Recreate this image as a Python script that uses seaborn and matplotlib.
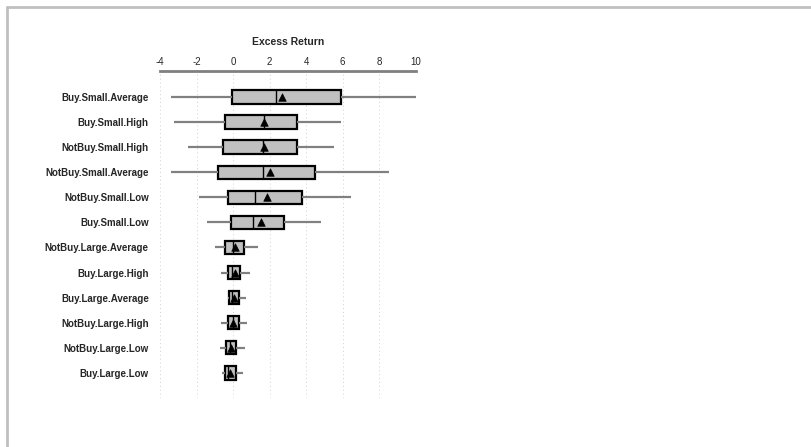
import numpy as np
import pandas as pd
import matplotlib
matplotlib.use("Agg")
import matplotlib.pyplot as plt
from matplotlib.lines import Line2D
import seaborn as sns

# Box plot summary (excess return)
groups = ["Buy.Small.Average", "Buy.Small.High", "NotBuy.Small.High",
          "NotBuy.Small.Average", "NotBuy.Small.Low", "Buy.Small.Low",
          "NotBuy.Large.Average", "Buy.Large.High", "Buy.Large.Average",
          "NotBuy.Large.High", "NotBuy.Large.Low", "Buy.Large.Low"]
whisker_lo = [-3.40, -3.23, -2.45, -3.41, -1.85, -1.44, -0.97, -0.66, -0.27, -0.66, -0.72, -0.59]
q1 = [-0.08, -0.44, -0.53, -0.84, -0.30, -0.11, -0.44, -0.28, -0.24, -0.29, -0.40, -0.44]
median = [2.33, 1.71, 1.65, 1.65, 1.20, 1.07, 0.01, -0.05, -0.04, 0.00, -0.15, -0.25]
q3 = [5.90, 3.49, 3.51, 4.51, 3.78, 2.77, 0.58, 0.38, 0.31, 0.31, 0.16, 0.15]
whisker_hi = [10.0, 5.90, 5.52, 8.56, 6.43, 4.84, 1.38, 0.94, 0.69, 0.74, 0.63, 0.52]
mean = [2.69, 1.71, 1.70, 2.05, 1.87, 1.51, 0.08, 0.10, 0.07, 0.00, -0.10, -0.16]
x_ticks = [-4, -2, 0, 2, 4, 6, 8, 10]

# five points per group reproduce the quartiles exactly; whiskers go to min/max
df = pd.DataFrame({"group": groups, "a": whisker_lo, "b": q1, "c": median,
                   "d": q3, "e": whisker_hi})
long = df.melt(id_vars="group", value_name="ret")
means = pd.DataFrame({"group": groups, "mean": mean})

sns.set_style("white")
plt.rcParams["font.family"] = ["Liberation Sans", "DejaVu Sans"]

fig = plt.figure(figsize=(8.12, 4.47), dpi=100)
ax = fig.add_axes([0.197, 0.110, 0.315, 0.731])

sns.boxplot(data=long, x="ret", y="group", order=groups, whis=(0, 100),
            width=0.54, color="#c0c0c0", showcaps=False, showfliers=False,
            boxprops=dict(facecolor="#c0c0c0", edgecolor="black", linewidth=1.6),
            medianprops=dict(color="black", linewidth=1.0),
            whiskerprops=dict(color="#808080", linewidth=1.6),
            ax=ax)
sns.scatterplot(data=means, x="mean", y="group", marker="^", s=30,
                color="black", edgecolor="black", zorder=5, ax=ax, legend=False)

ax.set_xlim(-4, 10)
ax.set_ylim(len(groups) - 1 + 1.0, -1.04)
ax.set_xticks(x_ticks)
ax.set_xticklabels([str(t) for t in x_ticks], fontsize=7)
ax.xaxis.tick_top()
ax.tick_params(axis="x", length=0, pad=3)
ax.tick_params(axis="y", length=0, pad=8)
for lbl in ax.get_yticklabels():
    lbl.set_fontweight("bold")
    lbl.set_fontsize(7)
ax.set_xlabel("")
ax.set_ylabel("")
ax.set_title("Excess Return", fontsize=7.5, fontweight="bold", pad=19)

for s in ["left", "right", "bottom"]:
    ax.spines[s].set_visible(False)
ax.spines["top"].set_color("#808080")
ax.spines["top"].set_linewidth(2)
ax.grid(axis="x", linestyle=(0, (1, 3)), color="#d0d0d0", linewidth=0.7)
ax.set_axisbelow(True)

# light gray frame along top and left edges
fig.add_artist(Line2D([0.0085, 1.0], [0.985, 0.985], transform=fig.transFigure,
                      color="#c0c0c0", linewidth=2))
fig.add_artist(Line2D([0.0085, 0.0085], [0.0, 0.985], transform=fig.transFigure,
                      color="#c0c0c0", linewidth=2))

fig.savefig("out.png", dpi=100)
